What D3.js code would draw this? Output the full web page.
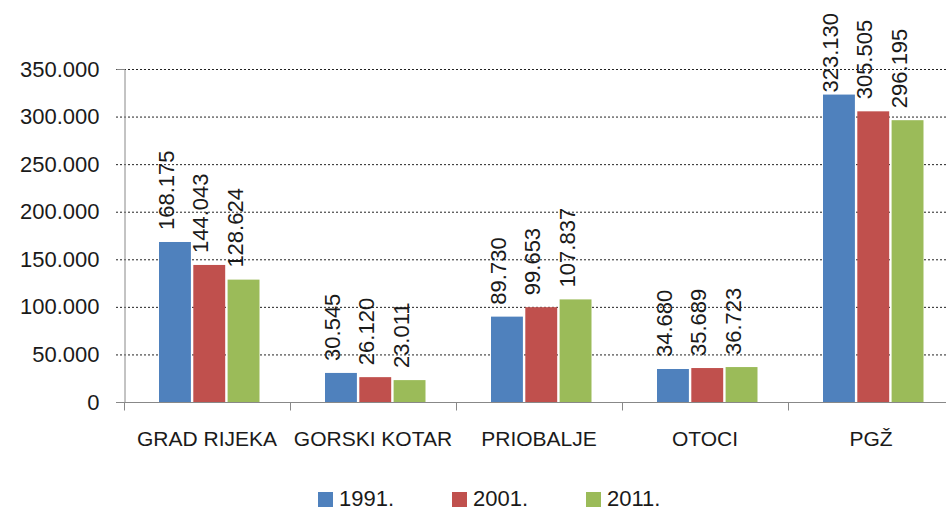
<!DOCTYPE html>
<html><head><meta charset="utf-8">
<script src="https://cdn.jsdelivr.net/npm/d3@7"></script>
<style>body{margin:0;background:#fff;} text{font-family:"Liberation Sans",Arial,sans-serif;fill:#1a1a1a;}</style>
</head><body>
<svg id="c" width="946" height="511"></svg>
<script>
const categories = ["GRAD RIJEKA","GORSKI KOTAR","PRIOBALJE","OTOCI","PGŽ"];
const seriesNames = ["1991.","2001.","2011."];
const s1991 = [168175, 30545, 89730, 34680, 323130];
const s2001 = [144043, 26120, 99653, 35689, 305505];
const s2011 = [128624, 23011, 107837, 36723, 296195];
const yTicks = [0,50000,100000,150000,200000,250000,300000,350000];
const colors = ["#4F81BD","#C0504D","#9BBB59"];
const series = [s1991, s2001, s2011];

const svg = d3.select("#c");
const mLeft = 124, mBottom = 402, mTop = 69;
const y = d3.scaleLinear().domain([0,350000]).range([mBottom, mTop]);
const x = d3.scaleBand().domain(categories).range([mLeft, mLeft + 5*166]).padding(0);
const xs = d3.scaleBand().domain(seriesNames).range([35, 135.5]).paddingInner(0.07).paddingOuter(0);
const fmt = v => d3.format(",")(v).replace(/,/g, ".");

// gridlines
svg.append("g").selectAll("line").data(yTicks.filter(d=>d>0)).join("line")
  .attr("x1", 116).attr("x2", 946).attr("y1", d=>y(d)+0.5).attr("y2", d=>y(d)+0.5)
  .attr("stroke","#222").attr("stroke-width",1).attr("stroke-dasharray","2,2");

// y axis
const ya = svg.append("g").attr("transform",`translate(${mLeft+0.5},0)`)
  .call(d3.axisLeft(y).tickValues(yTicks).tickSize(8).tickPadding(17).tickFormat(d => d===0 ? "0" : fmt(d)));
ya.select(".domain").attr("stroke","#888");
ya.selectAll(".tick line").attr("stroke","#888");
ya.selectAll(".tick text").attr("font-size",22).attr("fill","#1a1a1a").attr("font-family","Liberation Sans, Arial, sans-serif");
ya.selectAll(".tick").filter(d=>d>0).select("line").remove();

// x axis
const xa = svg.append("g").attr("transform",`translate(0,${mBottom+0.5})`);
xa.append("line").attr("x1",116).attr("x2",946).attr("stroke","#888");
xa.selectAll(".xt").data(d3.range(0,6)).join("line").attr("class","xt")
  .attr("x1", i=>mLeft+0.5+i*x.step()).attr("x2", i=>mLeft+0.5+i*x.step()).attr("y1",0).attr("y2",8).attr("stroke","#888");
xa.selectAll(".xl").data(categories).join("text").attr("class","xl")
  .attr("x", d=>x(d)+x.bandwidth()/2).attr("y", 43).attr("text-anchor","middle").attr("font-size",21).text(d=>d);

// bars
categories.forEach((cat, ci) => {
  const g = svg.append("g").attr("transform",`translate(${x(cat)},0)`);
  seriesNames.forEach((sn, si) => {
    const v = series[si][ci];
    g.append("rect").attr("x", xs(sn)).attr("width", xs.bandwidth())
      .attr("y", y(v)).attr("height", mBottom - y(v)).attr("fill", colors[si]);
    const cx = xs(sn) + xs.bandwidth()/2;
    const t = g.append("text").attr("font-size",22).attr("text-anchor","start").text(fmt(v));
    const len = t.node().getComputedTextLength();
    const by = Math.max(y(v) - 12, 13 + len);
    t.attr("transform", `translate(${cx-1},${by}) rotate(-90)`);
  });
});

// legend
const lg = svg.append("g");
seriesNames.forEach((sn, i) => {
  const lx = 318 + i*134;
  lg.append("rect").attr("x", lx).attr("y", 492).attr("width",15).attr("height",15).attr("fill",colors[i]);
  lg.append("text").attr("x", lx+21).attr("y", 506).attr("font-size",22).text(sn);
});
</script>
</body></html>
